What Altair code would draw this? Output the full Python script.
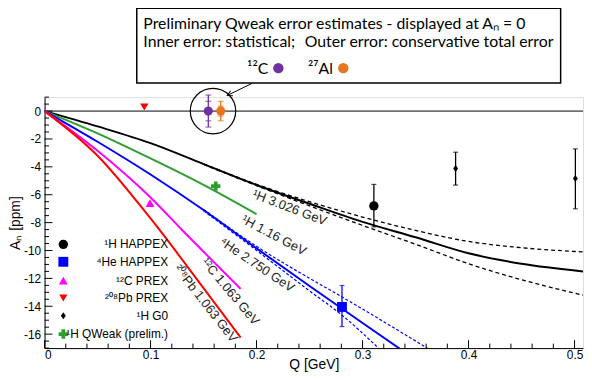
import altair as alt
import pandas as pd
import numpy as np

# ---------------- data ----------------
# theory curves (Q in GeV, A_n in ppm)
h3026_q = [0, 0.05, 0.1, 0.15, 0.2, 0.25, 0.3, 0.35, 0.4, 0.45, 0.508]
h3026_a = [0, -1.1, -2.3, -3.8, -5.3, -6.65, -7.95, -9.05, -10.2, -10.95, -11.5]
h3026_band_q = [0.15, 0.2, 0.25, 0.3, 0.35, 0.4, 0.45, 0.508]
h3026_band_hi = [-3.78, -5.25, -6.5, -7.6, -8.56, -9.35, -9.8, -10.1]
h3026_band_lo = [-3.82, -5.35, -6.8, -8.2, -9.55, -10.95, -12.1, -13.2]

h116_q = [0, 0.05, 0.1, 0.15, 0.2]
h116_a = [0, -1.6, -3.4, -5.3, -7.4]

he_q = [0, 0.05, 0.1, 0.15, 0.2, 0.25, 0.3, 0.34]
he_a = [0, -2.2, -4.55, -7.1, -9.85, -12.55, -15.2, -17.3]
he_hi_q = [0.15, 0.2, 0.25, 0.28, 0.3, 0.361]
he_hi_a = [-7.05, -9.7, -12.0, -13.3, -14.2, -17.0]
he_lo_q = [0.15, 0.2, 0.25, 0.28, 0.315]
he_lo_a = [-7.15, -10.0, -12.9, -14.6, -17.0]

c_q = [0, 0.05, 0.1, 0.13, 0.185]
c_a = [0, -2.85, -6.2, -8.55, -12.75]

pb_q = [0, 0.05, 0.1, 0.15, 0.185]
pb_a = [0, -3.2, -7.7, -12.7, -16.25]

# measured points
pt_names = ["1H HAPPEX", "4He HAPPEX", "12C PREX", "208Pb PREX", "1H G0 a", "1H G0 b", "1H QWeak"]
pt_q = [0.3107, 0.2806, 0.0995, 0.0941, 0.3878, 0.5008, 0.1615]
pt_a = [-6.80, -14.05, -6.60, 0.29, -4.12, -4.83, -5.38]
pt_lo = [-8.31, -15.46, None, None, -5.31, -7.01, None]
pt_hi = [-5.26, -12.51, None, None, -2.95, -2.71, None]
pt_shape = ["circle", "square", "triangle-up", "triangle-down",
            "M0,-1L0.7,0L0,1L-0.7,0Z", "M0,-1L0.7,0L0,1L-0.7,0Z", "cross"]
pt_color = ["#000000", "#0000ff", "#ff00ff", "#ff0000", "#000000", "#000000", "#2e9e2e"]
pt_size = [90, 100, 80, 70, 50, 50, 90]

# preliminary Qweak error estimates (displayed at A_n = 0)
qw_names = ["12C", "27Al"]
qw_q = [0.1545, 0.1662]
qw_a = [0, 0]
qw_outer = [1.15, 0.7]
qw_inner = [0.7, 0.35]
qw_color = ["#7030a0", "#e8761c"]

# legend
leg_labels = ["¹H  HAPPEX", "⁴He  HAPPEX", "¹²C  PREX", "²⁰⁸Pb  PREX", "¹H  G0", "¹H  QWeak (prelim.)"]
leg_a = [-9.56, -10.81, -12.16, -13.41, -14.68, -15.99]
leg_shape = ["circle", "square", "triangle-up", "triangle-down", "M0,-1L0.7,0L0,1L-0.7,0Z", "cross"]
leg_color = ["#000000", "#0000ff", "#ff00ff", "#ff0000", "#000000", "#2e9e2e"]
leg_size = [90, 100, 80, 70, 50, 90]

# curve labels
cl_text = ["¹H 3.026 GeV", "¹H 1.16 GeV", "⁴He 2.750 GeV", "¹²C 1.063 GeV", "²⁰⁸Pb 1.063 GeV"]
cl_q = [0.2312, 0.2163, 0.2004, 0.1752, 0.1519]
cl_a = [-6.94, -8.92, -11.04, -12.96, -13.81]
cl_angle = [21, 28, 34, 50, 52]

x_ticks = [0, 0.1, 0.2, 0.3, 0.4, 0.5]
y_ticks = [-16, -14, -12, -10, -8, -6, -4, -2, 0]

# ---------------- scales / axes ----------------
W, H = 545, 254
FONT = "Arial, Liberation Sans, Helvetica, sans-serif"
xscale = alt.Scale(domain=[0, 0.508], nice=False, zero=False)
yscale = alt.Scale(domain=[-17, 1], nice=False, zero=False)
xaxis = alt.Axis(values=x_ticks, labelExpr="datum.value == 0 ? '0' : format(datum.value, '.1f')",
                 tickSize=0, grid=False, domainColor="black", domainWidth=1,
                 labelFont=FONT, labelFontSize=12, labelColor="black", labelPadding=2,
                 title="Q [GeV]", titleFont=FONT, titleFontSize=14, titleFontWeight="normal",
                 titleColor="black", titleX=W / 2, titleY=21, titleAlign="center",
                 titleBaseline="alphabetic")
yaxis = alt.Axis(values=y_ticks, labelExpr="'' + datum.value",
                 tickSize=0, grid=False, domainColor="black", domainWidth=1,
                 labelFont=FONT, labelFontSize=12, labelColor="black", labelPadding=4,
                 title="Aₙ [ppm]", titleFont=FONT, titleFontSize=14, titleFontWeight="normal",
                 titleColor="black", titleAngle=270, titleX=-29, titleY=127,
                 titleAlign="center", titleBaseline="middle")


def X(f):
    return alt.X(f, type="quantitative", scale=xscale, axis=xaxis)


def Y(f):
    return alt.Y(f, type="quantitative", scale=yscale, axis=yaxis)


def curve_df(name, q, a, color):
    return pd.DataFrame({"series": name, "Q": q, "An": a, "color": color})


solid_df = pd.concat([
    curve_df("h3026", h3026_q, h3026_a, "#000000"),
    curve_df("h116", h116_q, h116_a, "#2e9e2e"),
    curve_df("he", he_q, he_a, "#0000ff"),
    curve_df("c", c_q, c_a, "#ff00ff"),
    curve_df("pb", pb_q, pb_a, "#ff0000"),
])
black_dash_df = pd.concat([
    curve_df("hhi", h3026_band_q, h3026_band_hi, "#000000"),
    curve_df("hlo", h3026_band_q, h3026_band_lo, "#000000"),
])
blue_dash_df = pd.concat([
    curve_df("hehi", he_hi_q, he_hi_a, "#0000ff"),
    curve_df("helo", he_lo_q, he_lo_a, "#0000ff"),
])

# ---------------- layers ----------------
zero_line = alt.Chart(pd.DataFrame({"An": [0]})).mark_rule(color="black", strokeWidth=1).encode(y=Y("An"))

ymaj = alt.Chart(pd.DataFrame({"An": y_ticks})).mark_rule(color="black", strokeWidth=1).encode(
    y=Y("An"), x=alt.value(0), x2=alt.value(8))
ymin_vals = [v for v in np.round(np.arange(-17, 1.01, 0.5), 2).tolist() if v not in y_ticks]
ymin = alt.Chart(pd.DataFrame({"An": ymin_vals})).mark_rule(color="black", strokeWidth=1).encode(
    y=Y("An"), x=alt.value(0), x2=alt.value(4.5))
xmaj = alt.Chart(pd.DataFrame({"Q": x_ticks})).mark_rule(color="black", strokeWidth=1).encode(
    x=X("Q"), y=alt.value(H), y2=alt.value(H - 8))
xmin_vals = [v for v in np.round(np.arange(0, 0.5081, 0.02), 3).tolist() if round(v * 10, 6) != round(v * 10)]
xmin = alt.Chart(pd.DataFrame({"Q": xmin_vals})).mark_rule(color="black", strokeWidth=1).encode(
    x=X("Q"), y=alt.value(H), y2=alt.value(H - 4.5))

solid = alt.Chart(solid_df).mark_line(interpolate="monotone", clip=True, strokeWidth=2).encode(
    x=X("Q"), y=Y("An"), color=alt.Color("color:N", scale=None), detail="series:N")
bdash = alt.Chart(black_dash_df).mark_line(interpolate="monotone", clip=True, strokeWidth=1.3,
                                           strokeDash=[4, 3]).encode(
    x=X("Q"), y=Y("An"), color=alt.Color("color:N", scale=None), detail="series:N")
bldash = alt.Chart(blue_dash_df).mark_line(interpolate="monotone", clip=True, strokeWidth=1.2,
                                           strokeDash=[3, 2]).encode(
    x=X("Q"), y=Y("An"), color=alt.Color("color:N", scale=None), detail="series:N")

pts_df = pd.DataFrame({"name": pt_names, "Q": pt_q, "An": pt_a, "lo": pt_lo, "hi": pt_hi,
                       "shape": pt_shape, "color": pt_color, "size": pt_size})
err_df = pts_df.dropna(subset=["lo"])
err = alt.Chart(err_df).mark_rule(strokeWidth=1.3).encode(
    x=X("Q"), y=Y("lo"), y2="hi", color=alt.Color("color:N", scale=None))
caps_df = pd.concat([err_df.assign(cap=err_df["lo"]), err_df.assign(cap=err_df["hi"])])
caps = alt.Chart(caps_df).mark_tick(orient="horizontal", size=5, thickness=1.2).encode(
    x=X("Q"), y=Y("cap"), color=alt.Color("color:N", scale=None))
points = alt.Chart(pts_df).mark_point(filled=True, opacity=1).encode(
    x=X("Q"), y=Y("An"), shape=alt.Shape("shape:N", scale=None),
    color=alt.Color("color:N", scale=None), size=alt.Size("size:Q", scale=None))

qw_df = pd.DataFrame({"name": qw_names, "Q": qw_q, "An": qw_a, "outer": qw_outer,
                      "inner": qw_inner, "color": qw_color})
qw_df["olo"] = qw_df["An"] - qw_df["outer"]
qw_df["ohi"] = qw_df["An"] + qw_df["outer"]
qw_df["ilo"] = qw_df["An"] - qw_df["inner"]
qw_df["ihi"] = qw_df["An"] + qw_df["inner"]
qw_err = alt.Chart(qw_df).mark_rule(strokeWidth=1.3, clip=False).encode(
    x=X("Q"), y=Y("olo"), y2="ohi", color=alt.Color("color:N", scale=None))
qw_caps_df = pd.concat([qw_df.assign(cap=qw_df[c]) for c in ["olo", "ohi", "ilo", "ihi"]])
qw_caps = alt.Chart(qw_caps_df).mark_tick(orient="horizontal", size=6, thickness=1.2, clip=False).encode(
    x=X("Q"), y=Y("cap"), color=alt.Color("color:N", scale=None))
qw_pts = alt.Chart(qw_df).mark_point(filled=True, opacity=1, size=85, shape="circle").encode(
    x=X("Q"), y=Y("An"), color=alt.Color("color:N", scale=None))

ring = alt.Chart(pd.DataFrame({"Q": [0.1589], "An": [0]})).mark_point(
    shape="circle", size=2116, filled=False, color="black", strokeWidth=1.2, opacity=1, clip=False
).encode(x=X("Q"), y=Y("An"))

arrow_df = pd.DataFrame({"Q": [0.1958], "An": [1.99], "Q2": [0.1724], "An2": [1.12]})
arrow_line = alt.Chart(arrow_df).mark_rule(color="black", strokeWidth=1, clip=False).encode(
    x=X("Q"), y=Y("An"), x2="Q2", y2="An2")
arrow_head = alt.Chart(arrow_df).mark_point(
    shape="M-1,-0.55L0,0L-1,0.55", size=100, filled=False, color="black", strokeWidth=1,
    angle=154, opacity=1, clip=False).encode(x=X("Q2"), y=Y("An2"))

box = alt.Chart(pd.DataFrame({"Q": [0.087], "Q2": [0.4869], "An": [7.38], "An2": [2.01]})).mark_rect(
    fill="white", stroke="black", strokeWidth=1.5, clip=False).encode(
    x=X("Q"), x2="Q2", y=Y("An"), y2="An2")

BOXFONT = "Lato"
box_texts = pd.DataFrame({
    "t": ["Preliminary Qweak error estimates - displayed at Aₙ = 0",
          "Inner error: statistical;", "Outer error: conservative total error",
          "¹²C", "²⁷Al"],
    "Q": [0.0932, 0.0932, 0.2454, 0.1911, 0.2486],
    "An": [5.92, 4.61, 4.61, 2.63, 2.63],
})
box_text = alt.Chart(box_texts).mark_text(
    font=BOXFONT, fontSize=16, align="left", baseline="alphabetic", color="black", clip=False
).encode(x=X("Q"), y=Y("An"), text="t:N")
box_dots = alt.Chart(pd.DataFrame({"Q": [0.2206, 0.2818], "An": [3.08, 3.08],
                                   "color": qw_color})).mark_point(
    filled=True, opacity=1, size=110, shape="circle", clip=False).encode(
    x=X("Q"), y=Y("An"), color=alt.Color("color:N", scale=None))

leg_df = pd.DataFrame({"t": leg_labels, "An": leg_a, "shape": leg_shape, "color": leg_color,
                       "size": leg_size})
leg_df["Qm"] = 0.0177
leg_df["Qt"] = 0.1165
leg_marks = alt.Chart(leg_df).mark_point(filled=True, opacity=1).encode(
    x=X("Qm"), y=Y("An"), shape=alt.Shape("shape:N", scale=None),
    color=alt.Color("color:N", scale=None), size=alt.Size("size:Q", scale=None))
leg_text = alt.Chart(leg_df).mark_text(font=FONT, fontSize=12, align="right", baseline="middle",
                                       color="black").encode(
    x=X("Qt"), y=Y("An"), text="t:N")

cl_df = pd.DataFrame({"t": cl_text, "Q": cl_q, "An": cl_a, "ang": cl_angle})
cl_layers = [
    alt.Chart(cl_df[cl_df["t"] == t]).mark_text(font=FONT, fontSize=13, align="center",
                                                 baseline="middle", color="#222222", angle=a).encode(
        x=X("Q"), y=Y("An"), text="t:N")
    for t, a in zip(cl_text, cl_angle)
]

chart = alt.layer(
    zero_line, ymaj, ymin, xmaj, xmin,
    bdash, bldash, solid,
    err, caps, points,
    qw_err, qw_caps, qw_pts, ring,
    arrow_line, arrow_head, box, box_text, box_dots,
    leg_marks, leg_text, *cl_layers
).properties(
    width=W, height=H,
    autosize=alt.AutoSizeParams(type="none"),
    padding={"left": 37, "top": 88, "right": 1, "bottom": 23},
).configure_view(stroke="black", strokeWidth=1).configure(background="white")

chart.save("out.html", embed_options={"renderer": "svg", "actions": False})
